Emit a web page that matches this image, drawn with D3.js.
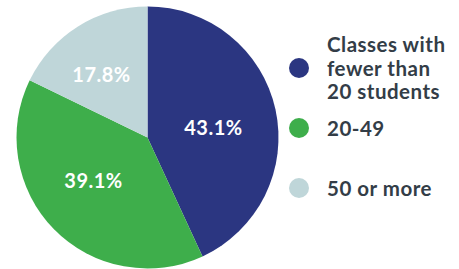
<!DOCTYPE html>
<html><head><meta charset="utf-8">
<script src="https://cdn.jsdelivr.net/npm/d3@7"></script>
<style>body{margin:0;background:#fff}svg{display:block}</style>
</head><body>
<svg id="c" width="459" height="269"></svg>
<script>
const categories = ["Classes with fewer than 20 students", "20-49", "50 or more"];
const values = [43.1, 39.1, 17.8];
const valueLabels = ["43.1%", "39.1%", "17.8%"];
const legendLines = [["Classes with", "fewer than", "20 students"], ["20-49"], ["50 or more"]];
const colors = ["#2b3681", "#3eae4b", "#bfd6d9"];

const svg = d3.select("#c");
const cx = 147.5, cy = 137.5, r = 131;
const g = svg.append("g").attr("transform", `translate(${cx},${cy})`);
const pie = d3.pie().sort(null).value(d => d)(values);
const arc = d3.arc().innerRadius(0).outerRadius(r);
g.selectAll("path").data(pie).join("path")
  .attr("d", arc).attr("fill", (d, i) => colors[i]);

const labelPos = [[66, -2.5], [-54, 50], [-46, -56]];
g.selectAll("text.lbl").data(pie).join("text").attr("class", "lbl")
  .attr("x", (d, i) => labelPos[i][0]).attr("y", (d, i) => labelPos[i][1])
  .attr("text-anchor", "middle")
  .attr("fill", "#fff").attr("font-family", "Lato, 'Open Sans', sans-serif")
  .attr("font-weight", "bold").attr("font-size", 20).attr("letter-spacing", 0.5)
  .text((d, i) => valueLabels[i]);

const legY = [68, 128, 188];
const leg = svg.append("g");
categories.forEach((c, i) => {
  leg.append("circle").attr("cx", 299).attr("cy", legY[i]).attr("r", 10).attr("fill", colors[i]);
  const lines = legendLines[i];
  const t = leg.append("text").attr("x", 327).attr("fill", "#333d47")
    .attr("font-family", "Lato, 'Open Sans', sans-serif").attr("font-weight", "bold")
    .attr("font-size", 20.5).attr("letter-spacing", 0.5);
  const y0 = legY[i] + 7.5 - (lines.length - 1) * 23.7 / 2;
  lines.forEach((l, j) => {
    t.append("tspan").attr("x", 327).attr("y", y0 + j * 23.7).text(l);
  });
});
</script>
</body></html>
